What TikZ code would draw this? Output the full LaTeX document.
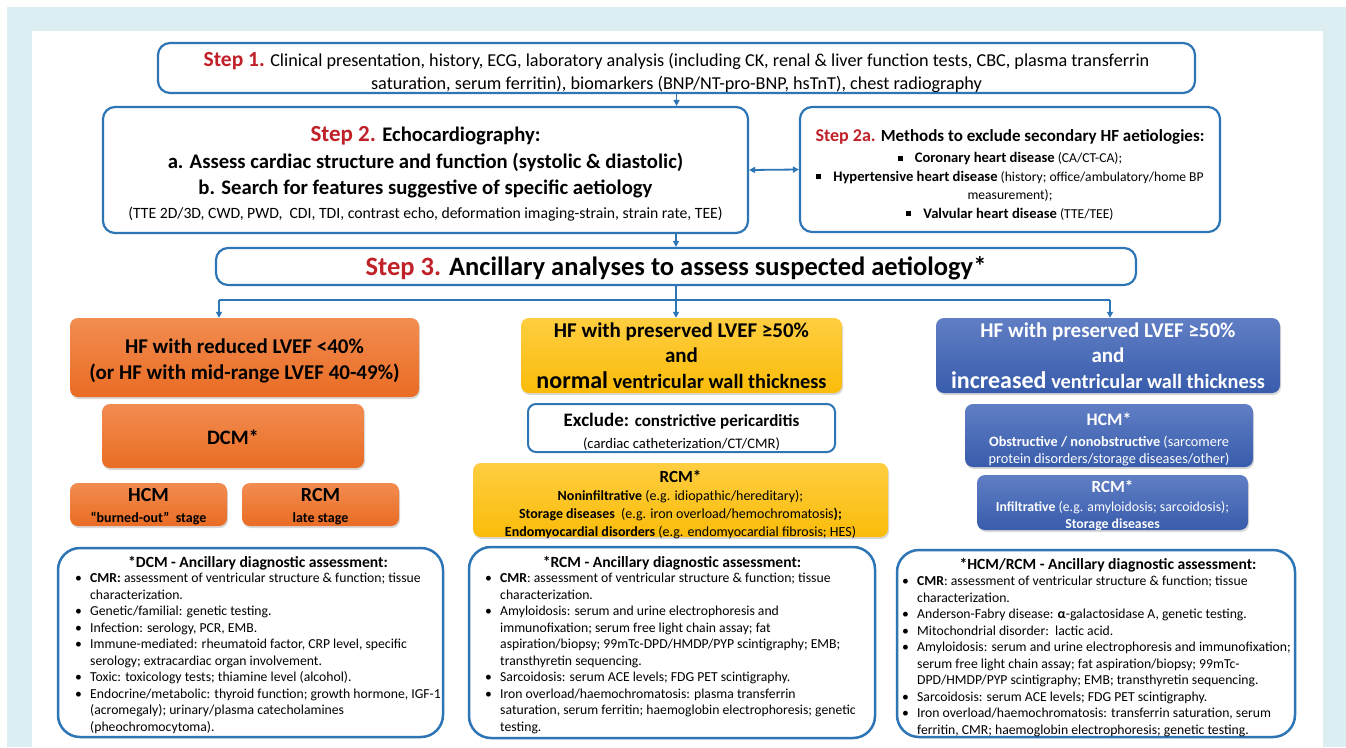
\documentclass[tikz,border=0pt]{standalone}
\usepackage{fontspec}
\setmainfont{Carlito}
\usetikzlibrary{arrows.meta,shadows}
\definecolor{bgblue}{RGB}{221,238,243}
\definecolor{lineblue}{RGB}{46,117,182}
\definecolor{stepred}{RGB}{192,32,40}
\definecolor{orgtop}{RGB}{242,140,80}
\definecolor{orgbot}{RGB}{233,108,36}
\definecolor{yeltop}{RGB}{255,206,64}
\definecolor{yelbot}{RGB}{250,188,10}
\definecolor{blutop}{RGB}{96,126,196}
\definecolor{blubot}{RGB}{56,92,172}
\newcommand{\bul}{\makebox[15pt][l]{•}}
\newcommand{\ind}{\hspace*{15pt}}
\newcommand{\sqbul}{\rule[2pt]{5pt}{5pt}\hspace{12pt}}
\newcommand{\fs}[2]{\fontsize{#1}{#2}\selectfont}
\begin{document}
\begin{tikzpicture}[x=1pt,y=-1pt,
    stepbox/.style={draw=lineblue, line width=2.2pt, rounded corners=12pt, fill=white, inner sep=0pt},
    listbox/.style={draw=lineblue, line width=2.5pt, rounded corners=22pt, inner sep=0pt},
    txt/.style={align=center, inner sep=0pt},
    link/.style={draw=lineblue, line width=1.8pt, -{Triangle[length=6pt,width=6pt]}},
    twolink/.style={draw=lineblue, line width=1.8pt, {Triangle[length=6pt,width=6pt]}-{Triangle[length=6pt,width=6pt]}},
    colbox/.style={rounded corners=8pt, inner sep=0pt, drop shadow={shadow xshift=1pt, shadow yshift=-2pt, opacity=0.3}},
    orangebox/.style={colbox, top color=orgtop, bottom color=orgbot},
    yellowbox/.style={colbox, top color=yeltop, bottom color=yelbot},
    bluebox/.style={colbox, top color=blutop, bottom color=blubot},
    listtext/.style={align=left, inner sep=0pt, anchor=north west, font=\fs{13.7}{16.5}},
    listhead/.style={inner sep=0pt, font=\bfseries\fs{15.6}{16}}
]
\useasboundingbox (0,0) rectangle (1346,747);
\fill[bgblue] (7,7) rectangle (1346,747);
\fill[white] (32,31) rectangle (1323,747);

% steps
\node[stepbox, minimum width=1037pt, minimum height=50pt] (step1) at (676.5,68) {};
\node[txt, font=\fs{18.2}{23}] (step1t) at (676.5,73)
  {{\color{stepred}\bfseries\fs{21.5}{23}Step 1.} Clinical presentation, history, ECG, laboratory analysis (including CK, renal \& liver function tests, CBC, plasma transferrin\\
   saturation, serum ferritin), biomarkers (BNP/NT-pro-BNP, hsTnT), chest radiography};
\node[stepbox, minimum width=645pt, minimum height=126pt] (step2) at (425.5,170) {};
\node[txt, font=\bfseries\fs{20.7}{26.5}] (step2t) at (425.5,174)
  {{\color{stepred}\fs{23}{26.5}Step 2.} Echocardiography:\\
   a. Assess cardiac structure and function (systolic \& diastolic)\\
   b. Search for features suggestive of specific aetiology\\[-2.5pt]
   {\mdseries\fs{15.7}{26.5}(TTE 2D/3D, CWD, PWD,\ \ CDI, TDI, contrast echo, deformation imaging-strain, strain rate, TEE)}};
\node[stepbox, minimum width=420pt, minimum height=125pt] (step2a) at (1010,169.5) {};
\node[txt, font=\fs{13.6}{18.5}] (step2at) at (1010,174.5)
  {{\bfseries\fs{17}{18.5}{\color{stepred}\fs{18}{18.5}Step 2a.} Methods to exclude secondary HF aetiologies:}\\[3pt]
   \sqbul{\bfseries\fs{14.6}{18.5}Coronary heart disease} (CA/CT-CA);\\
   \sqbul{\bfseries\fs{14.6}{18.5}Hypertensive heart disease} (history; office/ambulatory/home BP\\
   measurement);\\
   \sqbul{\bfseries\fs{14.6}{18.5}Valvular heart disease} (TTE/TEE)};
\node[stepbox, minimum width=920pt, minimum height=37pt] (step3) at (676,266.5) {};
\node[txt, font=\bfseries\fs{26.5}{28}] (step3t) at (676,268.5)
  {{\color{stepred}Step 3.} Ancillary analyses to assess suspected aetiology*};

\draw[link] (step1.south) -- (step1.south |- step2.north);
\draw[link] (step3.north |- step2.south) -- (step3.north);
\draw[twolink] (step2.east) -- (step2a.west);

% left column
\node[orangebox, minimum width=349pt, minimum height=79pt] (hfr) at (244.5,357.5) {};
\node[txt, font=\bfseries\fs{21}{26}] (hfrt) at (244.5,360.5)
  {HF with reduced LVEF <40\%\\(or HF with mid-range LVEF 40-49\%)};
\node[orangebox, minimum width=262pt, minimum height=64pt] (dcm) at (233,436) {};
\node[txt, font=\bfseries\fs{20.5}{24}] (dcmt) at (233,437) {DCM*};
\node[orangebox, minimum width=157pt, minimum height=43pt] (hcmb) at (148.5,504.5) {};
\node[txt, font=\bfseries\fs{20}{22}] (hcmbt) at (148.5,507)
  {HCM\\[-1pt]{\fs{14}{22}“burned-out”\ \ stage}};
\node[orangebox, minimum width=157pt, minimum height=43pt] (rcml) at (320.5,504.5) {};
\node[txt, font=\bfseries\fs{20}{22}] (rcmlt) at (320.5,507)
  {RCM\\[-1pt]{\fs{14}{22}late stage}};

% middle column
\node[yellowbox, minimum width=321pt, minimum height=75pt] (hfpn) at (681.5,355.5) {};
\node[txt, font=\bfseries\fs{21}{25.5}] (hfpnt) at (681.5,355.5)
  {HF with preserved LVEF ≥50\%\\and\\{\fs{24}{25.5}normal} {\fs{20.3}{25.5}ventricular wall thickness}};
\node[stepbox, rounded corners=8pt, line width=2pt, minimum width=307pt, minimum height=48pt] (excl) at (681.5,428) {};
\node[txt, font=\fs{14.6}{22}] (exclt) at (681.5,431.5)
  {{\bfseries\fs{19}{22}Exclude: {\fs{17}{22}constrictive pericarditis}}\\(cardiac catheterization/CT/CMR)};
\node[yellowbox, minimum width=415pt, minimum height=74pt] (rcmm) at (680.5,500) {};
\node[txt, font=\fs{14}{18}] (rcmmt) at (680.5,505)
  {{\bfseries\fs{17}{18}RCM*}\\
   \textbf{Noninfiltrative} (e.g. idiopathic/hereditary);\\
   \textbf{Storage diseases}\ \ (e.g. iron overload/hemochromatosis\textbf{);}\\
   \textbf{Endomyocardial disorders} (e.g. endomyocardial fibrosis; HES)};

% right column
\node[bluebox, minimum width=344pt, minimum height=75pt] (hfpi) at (1108,355.5) {};
\node[txt, text=white, font=\bfseries\fs{21}{25.5}] (hfpit) at (1108,355.5)
  {HF with preserved LVEF ≥50\%\\and\\{\fs{24}{25.5}increased} {\fs{20.3}{25.5}ventricular wall thickness}};
\node[bluebox, minimum width=288pt, minimum height=63pt] (hcmr) at (1109,435.5) {};
\node[txt, text=white, font=\fs{14.3}{17}] (hcmrt) at (1109,439)
  {{\bfseries\fs{17.6}{17}HCM*}\\[4pt]
   \textbf{Obstructive / nonobstructive} (sarcomere\\
   protein disorders/storage diseases/other)};
\node[bluebox, minimum width=271pt, minimum height=55pt] (rcmr) at (1112.5,502.5) {};
\node[txt, text=white, font=\fs{13.8}{17}] (rcmrt) at (1112.5,506)
  {{\bfseries\fs{17}{17}RCM*}\\[2pt]
   \textbf{Infiltrative} (e.g. amyloidosis; sarcoidosis);\\
   \textbf{Storage diseases}};

\coordinate (brM) at (676,300);
\coordinate (brL) at (219,300);
\coordinate (brR) at (1110,300);
\draw[draw=lineblue, line width=1.8pt] (step3.south) -- (brM);
\draw[draw=lineblue, line width=1.8pt] (brL) -- (brR);
\draw[link] (brL) -- (brL |- hfr.north);
\draw[link] (brM) -- (brM |- hfpn.north);
\draw[link] (brR) -- (brR |- hfpi.north);

% ancillary assessment
\node[listbox, minimum width=385pt, minimum height=189pt] (dcmA) at (250.5,642.5) {};
\node[listhead] (dcmT) at (258,563) {*DCM - Ancillary diagnostic assessment:};
\node[listtext] (dcmL) at (75,573)
  {\bul\textbf{CMR:} assessment of ventricular structure \& function; tissue\\
   \ind characterization.\\
   \bul Genetic/familial: genetic testing.\\
   \bul Infection: serology, PCR, EMB.\\
   \bul Immune-mediated: rheumatoid factor, CRP level, specific\\
   \ind serology; extracardiac organ involvement.\\
   \bul Toxic: toxicology tests; thiamine level (alcohol).\\
   \bul Endocrine/metabolic: thyroid function; growth hormone, IGF-1\\
   \ind (acromegaly); urinary/plasma catecholamines\\
   \ind (pheochromocytoma).};

\node[listbox, minimum width=406pt, minimum height=191pt] (rcmA) at (672,642.5) {};
\node[listhead] (rcmT) at (672,563) {*RCM - Ancillary diagnostic assessment:};
\node[listtext] (rcmL) at (485,573)
  {\bul\textbf{CMR}: assessment of ventricular structure \& function; tissue\\
   \ind characterization.\\
   \bul Amyloidosis: serum and urine electrophoresis and\\
   \ind immunofixation; serum free light chain assay; fat\\
   \ind aspiration/biopsy; 99mTc-DPD/HMDP/PYP scintigraphy; EMB;\\
   \ind transthyretin sequencing.\\
   \bul Sarcoidosis: serum ACE levels; FDG PET scintigraphy.\\
   \bul Iron overload/haemochromatosis: plasma transferrin\\
   \ind saturation, serum ferritin; haemoglobin electrophoresis; genetic\\
   \ind testing.};

\node[listbox, minimum width=398pt, minimum height=187pt] (hrA) at (1096,643.5) {};
\node[listhead] (hrT) at (1108,565) {*HCM/RCM - Ancillary diagnostic assessment:};
\node[listtext] (hrL) at (902,576)
  {\bul\textbf{CMR}: assessment of ventricular structure \& function; tissue\\
   \ind characterization.\\
   \bul Anderson-Fabry disease: \textbf{α}-galactosidase A, genetic testing.\\
   \bul Mitochondrial disorder:\ \ lactic acid.\\
   \bul Amyloidosis: serum and urine electrophoresis and immunofixation;\\
   \ind serum free light chain assay; fat aspiration/biopsy; 99mTc-\\
   \ind DPD/HMDP/PYP scintigraphy; EMB; transthyretin sequencing.\\
   \bul Sarcoidosis: serum ACE levels; FDG PET scintigraphy.\\
   \bul Iron overload/haemochromatosis: transferrin saturation, serum\\
   \ind ferritin, CMR; haemoglobin electrophoresis; genetic testing.};
\end{tikzpicture}
\end{document}
